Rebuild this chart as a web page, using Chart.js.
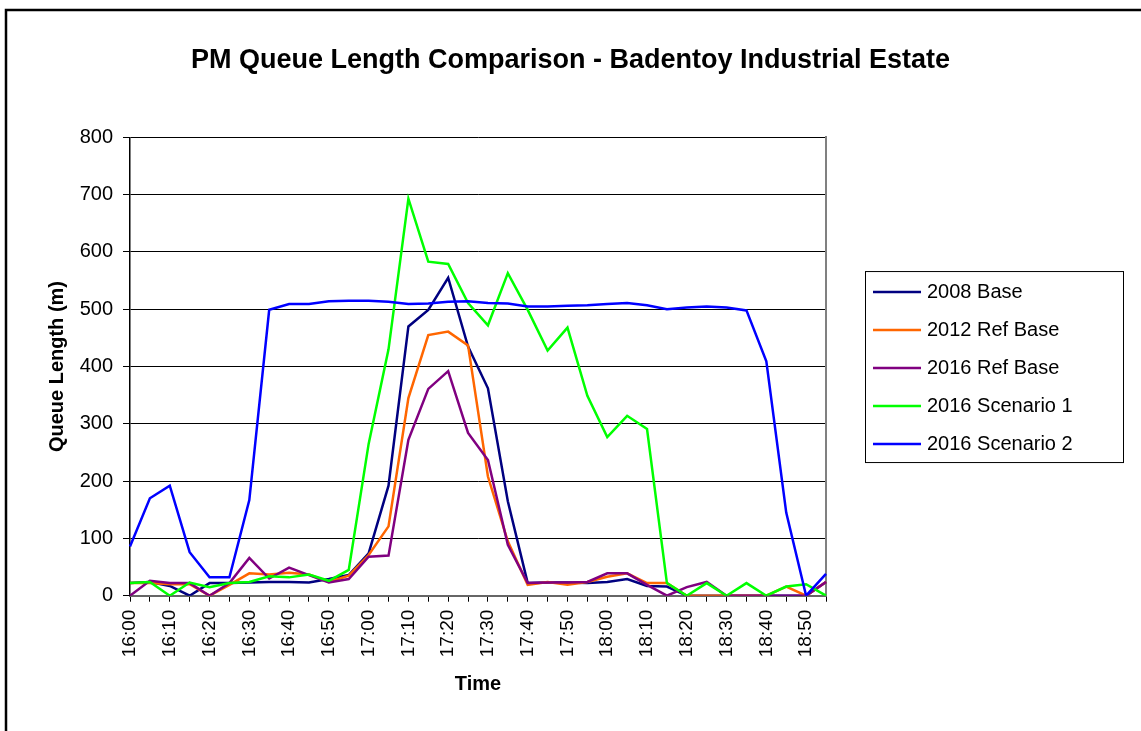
<!DOCTYPE html>
<html>
<head>
<meta charset="utf-8">
<title>PM Queue Length Comparison</title>
<script src="https://cdn.jsdelivr.net/npm/chart.js@4.4.1/dist/chart.umd.min.js"></script>
<style>
  body { margin: 0; background: #fff; }
  canvas { display: block; }
</style>
</head>
<body>
<canvas id="stage" width="1141" height="731"></canvas>
<script>
// time axis (5 minute steps)
const times = ['16:00','16:05','16:10','16:15','16:20','16:25','16:30','16:35','16:40','16:45',
  '16:50','16:55','17:00','17:05','17:10','17:15','17:20','17:25','17:30','17:35',
  '17:40','17:45','17:50','17:55','18:00','18:05','18:10','18:15','18:20','18:25',
  '18:30','18:35','18:40','18:45','18:50','18:55'];

// queue lengths (m)
const base2008 = [22, 24, 17, 0, 22, 22, 23, 24, 24, 23, 29, 36, 74, 192, 470, 499, 555, 435,
  362, 165, 22, 23, 23, 22, 24, 29, 17, 16, 0, 0, 0, 0, 0, 0, 0, 24];
const refBase2012 = [22, 22, 20, 20, 0, 19, 39, 37, 40, 37, 24, 35, 71, 121, 345, 455, 461, 437,
  208, 95, 19, 24, 19, 24, 33, 39, 22, 22, 0, 0, 0, 0, 0, 16, 0, 24];
const refBase2016 = [0, 26, 22, 22, 0, 22, 66, 30, 49, 36, 23, 29, 68, 70, 272, 361, 392, 284,
  237, 89, 22, 23, 23, 24, 39, 39, 19, 0, 15, 24, 0, 0, 0, 0, 0, 24];
const scenario1 = [22, 24, 0, 23, 15, 22, 24, 34, 32, 37, 26, 45, 265, 430, 693, 583, 579, 511,
  472, 563, 499, 428, 468, 349, 277, 314, 291, 22, 0, 22, 0, 22, 0, 16, 20, 0];
const scenario2 = [86, 170, 192, 76, 32, 32, 167, 499, 509, 509, 514, 515, 515, 513, 509, 510, 513, 514,
  511, 510, 505, 505, 506, 507, 509, 511, 507, 500, 503, 505, 503, 498, 409, 145, 0, 38];

const seriesNames = ['2008 Base', '2012 Ref Base', '2016 Ref Base', '2016 Scenario 1', '2016 Scenario 2'];
const seriesData = [base2008, refBase2012, refBase2016, scenario1, scenario2];
const seriesColors = ['#000080', '#FF6600', '#800080', '#00FF00', '#0000FF'];

const yTicks = [0, 100, 200, 300, 400, 500, 600, 700, 800];

Chart.defaults.font.family = '"Liberation Sans", Arial, sans-serif';
Chart.defaults.color = '#000';

// white page + outer frame
const framePlugin = {
  id: 'frame',
  beforeDraw(chart) {
    const ctx = chart.ctx;
    ctx.save();
    ctx.fillStyle = '#fff';
    ctx.fillRect(0, 0, chart.width, chart.height);
    ctx.strokeStyle = '#000';
    ctx.lineWidth = 2.5;
    ctx.strokeRect(6, 10, chart.width + 20, chart.height + 20);
    ctx.restore();
  }
};

// boxed legend to the right of the plot, like Excel
const legendBox = {
  id: 'legendBox',
  afterDraw(chart) {
    const a = chart.chartArea;
    const ctx = chart.ctx;
    const sets = chart.data.datasets;
    const rowH = 38;
    const w = 258;
    const h = sets.length * rowH + 1;
    const left = a.right + 39;
    const top = (a.top + a.bottom) / 2 - h / 2;
    ctx.save();
    ctx.strokeStyle = '#000';
    ctx.lineWidth = 1;
    ctx.strokeRect(left + 0.5, top + 0.5, w, h);
    ctx.font = '20px "Liberation Sans", Arial, sans-serif';
    ctx.textBaseline = 'middle';
    ctx.textAlign = 'left';
    sets.forEach((ds, i) => {
      const y = top + 21 + i * rowH;
      ctx.strokeStyle = ds.borderColor;
      ctx.lineWidth = ds.borderWidth;
      ctx.beginPath();
      ctx.moveTo(left + 8, y);
      ctx.lineTo(left + 56, y);
      ctx.stroke();
      ctx.fillStyle = '#000';
      ctx.fillText(ds.label, left + 62, y);
    });
    ctx.restore();
  }
};

const datasets = seriesNames.map((name, i) => ({
  label: name,
  data: seriesData[i],
  borderColor: seriesColors[i],
  backgroundColor: seriesColors[i],
  borderWidth: 2.5,
  pointRadius: 0,
  tension: 0,
  order: seriesNames.length - i   // later series on top, as in Excel
}));

new Chart(document.getElementById('stage'), {
  type: 'line',
  data: { labels: times, datasets: datasets },
  options: {
    responsive: false,
    animation: false,
    layout: { padding: 0 },
    plugins: {
      legend: { display: false },
      tooltip: { enabled: false },
      title: {
        display: true,
        text: 'PM Queue Length Comparison - Badentoy Industrial Estate',
        color: '#000',
        font: { size: 27, weight: 'bold' },
        padding: { top: 44, bottom: 61 }
      }
    },
    scales: {
      x: {
        offset: false,
        grid: { drawOnChartArea: false, color: '#000', tickLength: 6 },
        border: { color: '#666', width: 2 },
        ticks: {
          autoSkip: false,
          minRotation: 90,
          maxRotation: 90,
          padding: 8,
          font: { size: 19 },
          callback: (v, i) => (i % 2 === 0 ? times[i] : '')
        },
        title: {
          display: true,
          text: 'Time',
          font: { size: 20, weight: 'bold' },
          padding: { top: 0, bottom: 35 }
        },
        afterFit: (s) => { s.height = 135.3; }
      },
      y: {
        min: 0,
        max: 800,
        afterBuildTicks: (s) => { s.ticks = yTicks.map(v => ({ value: v })); },
        ticks: { padding: 10, font: { size: 20 } },
        grid: { color: '#000', lineWidth: 1, tickLength: 7 },
        border: { color: '#000', width: 1.5 },
        title: {
          display: true,
          text: 'Queue Length (m)',
          font: { size: 20, weight: 'bold' },
          padding: { top: 45, bottom: 0 }
        },
        afterFit: (s) => { s.width = 130; }
      },
      // empty right axis: gray right edge of the plot and room for the legend
      yRight: {
        position: 'right',
        min: 0,
        max: 800,
        grid: { drawOnChartArea: false, drawTicks: false },
        border: { color: '#808080', width: 2 },
        ticks: { display: false },
        afterFit: (s) => { s.width = 315; }
      }
    }
  },
  plugins: [framePlugin, legendBox]
});
</script>
</body>
</html>
